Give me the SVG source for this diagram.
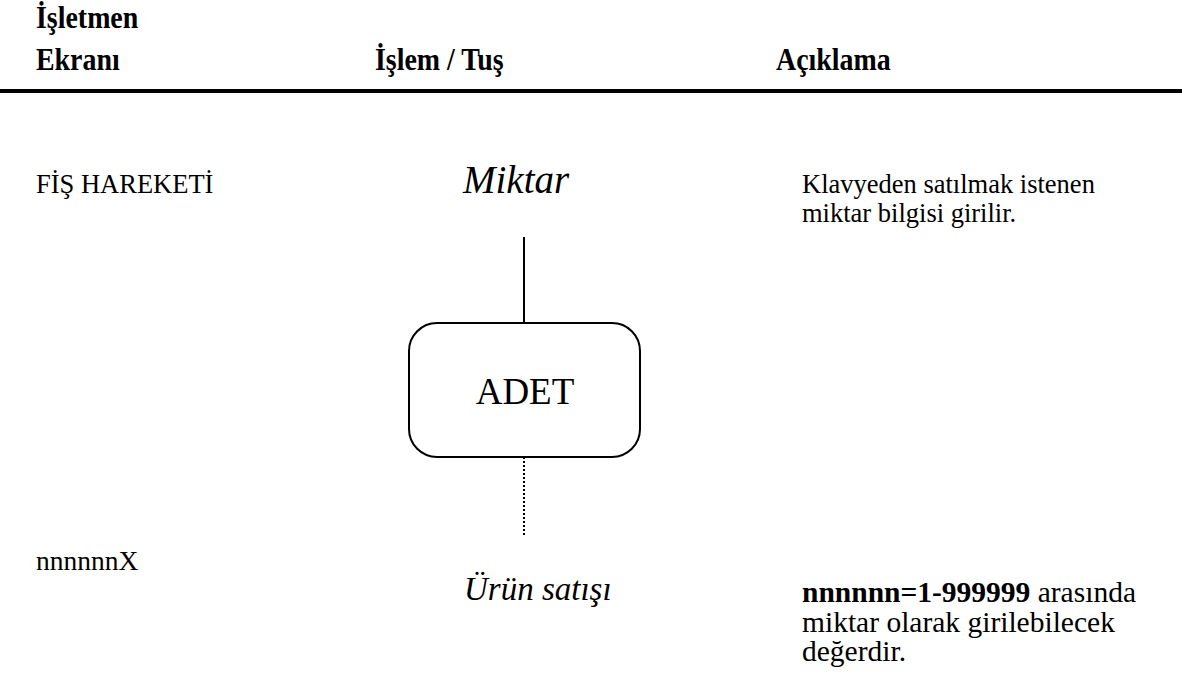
<svg xmlns="http://www.w3.org/2000/svg" width="1182" height="677" viewBox="0 0 1182 677" font-family="'Liberation Serif', 'Times New Roman', serif">
<style>
text{font-family:'Liberation Serif', 'Times New Roman', serif;fill:#000}
.h{font-weight:bold;font-size:31px}
.b{font-size:26.5px}
.b2{font-size:29.5px}
.i{font-style:italic}
.node{fill:#fff;stroke:#000;stroke-width:2}
</style>
<rect width="1182" height="677" fill="#fff"/>
<g id="header">
<text class="h" transform="translate(36,28) scale(0.9,1)">İşletmen</text>
<text class="h" transform="translate(36,70) scale(0.9,1)">Ekranı</text>
<text class="h" transform="translate(375,70) scale(0.9,1)">İşlem / Tuş</text>
<text class="h" transform="translate(776,70) scale(0.9,1)">Açıklama</text>
<rect x="0" y="89" width="1182" height="4" fill="#000"/>
</g>
<g id="connectors" stroke="#000" stroke-width="2" fill="none">
<line x1="524" y1="237" x2="524" y2="323"/>
<line x1="524" y1="457" x2="524" y2="535" stroke-dasharray="2,2"/>
</g>
<g id="label-fis"><text class="b" x="36" y="193">FİŞ HAREKETİ</text></g>
<g id="label-miktar"><text class="i" x="463" y="193" style="font-size:39px">Miktar</text></g>
<g id="desc1"><text class="b" x="802" y="193">Klavyeden satılmak istenen</text><text class="b" x="802" y="222">miktar bilgisi girilir.</text></g>
<g id="node-adet">
<rect class="node" x="409" y="323" width="231" height="134" rx="28"/>
<text x="525" y="404" text-anchor="middle" style="font-size:37px">ADET</text>
</g>
<g id="label-nnn"><text class="b" x="36" y="570" style="font-size:27.5px">nnnnnnX</text></g>
<g id="label-urun"><text class="i" x="464" y="600" style="font-size:33px">Ürün satışı</text></g>
<g id="desc2">
<text class="b2" x="802" y="602"><tspan font-weight="bold">nnnnnn=1-999999</tspan> arasında</text>
<text class="b2" x="802" y="632">miktar olarak girilebilecek</text>
<text class="b2" x="802" y="661">değerdir.</text>
</g>
</svg>
